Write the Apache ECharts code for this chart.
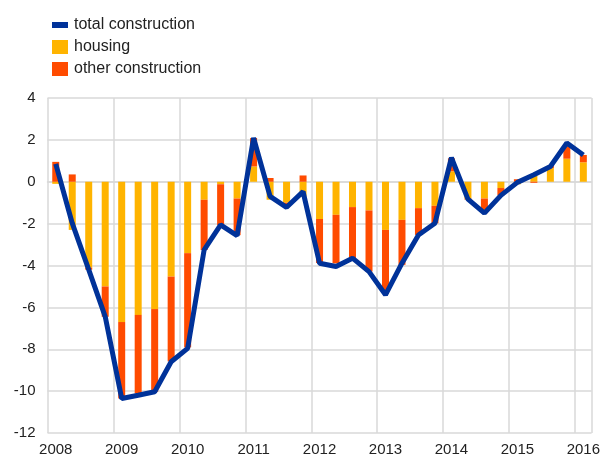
<!DOCTYPE html>
<html>
<head>
<meta charset="utf-8">
<script src="https://cdn.jsdelivr.net/npm/echarts@6/dist/echarts.min.js"></script>
<style>
  html, body { margin: 0; padding: 0; background: #fff; }
  #chart { width: 603px; height: 457px; }
</style>
</head>
<body>
<div id="chart"></div>
<script>
const categories = [
  '2008Q1', '2008Q2', '2008Q3', '2008Q4',
  '2009Q1', '2009Q2', '2009Q3', '2009Q4',
  '2010Q1', '2010Q2', '2010Q3', '2010Q4',
  '2011Q1', '2011Q2', '2011Q3', '2011Q4',
  '2012Q1', '2012Q2', '2012Q3', '2012Q4',
  '2013Q1', '2013Q2', '2013Q3', '2013Q4',
  '2014Q1', '2014Q2', '2014Q3', '2014Q4',
  '2015Q1', '2015Q2', '2015Q3', '2015Q4',
  '2016Q1'
];

const totalConstruction = [
  0.85, -1.98, -4.2, -6.44,
  -10.35, -10.2, -10.03, -8.6,
  -7.96, -3.25, -2.06, -2.57,
  2.09, -0.7, -1.22, -0.47,
  -3.89, -4.05, -3.65, -4.29,
  -5.4, -3.89, -2.54, -1.98,
  1.15, -0.83, -1.5, -0.65,
  -0.03, 0.33, 0.73, 1.85,
  1.28
];

const housing = [
  -0.1, -2.3, -4.1, -5.0,
  -6.7, -6.36, -6.08, -4.53,
  -3.41, -0.86, -0.12, -0.8,
  0.73, -0.86, -1.0, -0.72,
  -1.78, -1.58, -1.21, -1.37,
  -2.3, -1.82, -1.26, -1.15,
  0.5, -0.8, -0.8, -0.3,
  -0.12, 0.28, 0.65, 1.1,
  0.93
];

const otherConstruction = [
  0.95, 0.35, -0.1, -1.45,
  -3.65, -3.75, -3.95, -4.05,
  -4.5, -2.4, -1.95, -1.75,
  1.36, 0.18, -0.22, 0.3,
  -2.1, -2.32, -2.44, -2.92,
  -3.05, -2.15, -1.28, -0.83,
  0.62, -0.05, -0.7, -0.35,
  0.12, -0.05, 0.1, 0.6,
  0.35
];

const font = '"Liberation Sans", Arial, sans-serif';

const chart = echarts.init(document.getElementById('chart'), null, { renderer: 'canvas' });

const option = {
  animation: false,
  textStyle: { fontFamily: font },
  legend: {
    orient: 'vertical',
    left: 47,
    top: 12,
    itemWidth: 16,
    itemHeight: 14,
    itemGap: 6,
    textStyle: { fontSize: 16, color: '#222', lineHeight: 16, padding: [0, 0, 0, 1] },
    data: [
      { name: 'total construction', icon: 'path://M0,0H16V6H0Z' },
      { name: 'housing', icon: 'rect' },
      { name: 'other construction', icon: 'rect' }
    ]
  },
  grid: { left: 47.5, right: 10, top: 98, bottom: 24 },
  xAxis: {
    type: 'category',
    data: categories,
    boundaryGap: true,
    axisLine: { show: true, lineStyle: { color: '#d9d9d9', width: 1.5 } },
    axisTick: { show: false },
    axisLabel: {
      interval: 3,
      color: '#222',
      fontSize: 15,
      margin: 9,
      formatter: (v) => v.slice(0, 4)
    },
    splitLine: { show: true, interval: 3, lineStyle: { color: '#d9d9d9', width: 1.5 } }
  },
  yAxis: {
    type: 'value',
    min: -12,
    max: 4,
    interval: 2,
    axisLine: { show: false },
    axisTick: { show: false },
    axisLabel: { color: '#222', fontSize: 15, margin: 12 },
    splitLine: { lineStyle: { color: '#d9d9d9', width: 1.5 } }
  },
  series: [
    {
      name: 'housing',
      type: 'bar',
      stack: 'parts',
      barWidth: 7,
      itemStyle: { color: '#ffb400' },
      data: housing
    },
    {
      name: 'other construction',
      type: 'bar',
      stack: 'parts',
      barWidth: 7,
      itemStyle: { color: '#ff4b00' },
      data: otherConstruction
    },
    {
      name: 'total construction',
      type: 'line',
      symbol: 'none',
      z: 5,
      itemStyle: { color: '#003299' },
      lineStyle: { color: '#003299', width: 5 },
      data: totalConstruction
    }
  ]
};

chart.setOption(option);
</script>
</body>
</html>
